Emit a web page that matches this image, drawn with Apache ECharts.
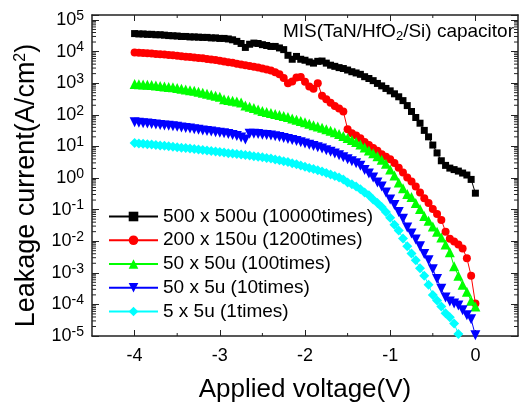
<!DOCTYPE html>
<html><head><meta charset="utf-8">
<script src="https://cdn.jsdelivr.net/npm/echarts@6/dist/echarts.min.js"></script>
<style>html,body{margin:0;padding:0;background:#fff}#c{width:523px;height:408px}</style>
</head><body><div id="c"></div>
<script>
// Applied voltage (V)
const volts = [-4.00,-3.95,-3.90,-3.85,-3.80,-3.75,-3.70,-3.65,-3.60,-3.55,
  -3.50,-3.45,-3.40,-3.35,-3.30,-3.25,-3.20,-3.15,-3.10,-3.05,
  -3.00,-2.95,-2.90,-2.85,-2.80,-2.75,-2.70,-2.65,-2.60,-2.55,
  -2.50,-2.45,-2.40,-2.35,-2.30,-2.25,-2.20,-2.15,-2.10,-2.05,
  -2.00,-1.95,-1.90,-1.85,-1.80,-1.75,-1.70,-1.65,-1.60,-1.55,
  -1.50,-1.45,-1.40,-1.35,-1.30,-1.25,-1.20,-1.15,-1.10,-1.05,
  -1.00,-0.95,-0.90,-0.85,-0.80,-0.75,-0.70,-0.65,-0.60,-0.55,
  -0.50,-0.45,-0.40,-0.35,-0.30,-0.25,-0.20,-0.15,-0.10,-0.05,
  0.00];

const seriesNames = ['500 x 500u (10000times)','200 x 150u (1200times)','50 x 50u (100times)','50 x 5u (10times)','5 x 5u (1times)'];

// Leakage current (A/cm2)
const jBlack = [3.7e4,3.6e4,3.6e4,3.5e4,3.5e4,3.4e4,3.4e4,3.3e4,3.2e4,3.15e4,
  3.1e4,3.0e4,3.0e4,2.9e4,2.9e4,2.85e4,2.8e4,2.8e4,2.7e4,2.7e4,
  2.6e4,2.6e4,2.5e4,2.35e4,2.1e4,1.8e4,1.35e4,1.7e4,1.85e4,1.8e4,
  1.65e4,1.55e4,1.45e4,1.45e4,1.3e4,1.15e4,7.6e3,5.7e3,7.0e3,5.7e3,
  5.3e3,4.7e3,4.3e3,4.9e3,5.0e3,4.3e3,3.7e3,3.4e3,3.1e3,2.9e3,
  2.6e3,2.3e3,2.1e3,1.9e3,1.6e3,1.4e3,1.2e3,980,820,680,
  570,460,370,280,195,127,82,54,32,20,
  11,6.2,3.5,2.5,2.05,1.84,1.65,1.43,1.24,0.9,
  0.33];
const jRed = [9.4e3,9.2e3,9.0e3,8.8e3,8.6e3,8.4e3,8.2e3,8.0e3,7.8e3,7.6e3,
  7.35e3,7.1e3,6.9e3,6.7e3,6.5e3,6.3e3,6.1e3,5.8e3,5.6e3,5.4e3,
  5.1e3,4.8e3,4.6e3,4.4e3,4.1e3,3.9e3,3.7e3,3.5e3,3.3e3,3.1e3,
  2.9e3,2.7e3,2.5e3,2.2e3,1.9e3,1.45e3,1.0e3,1.13e3,1.5e3,1.56e3,
  1.1e3,790,660,1.0e3,400,310,240,190,157,127,
  35,26,22,18,13.7,11,8.9,7.2,5.6,4.7,
  3.9,3.0,2.1,1.5,1.04,0.78,0.54,0.35,0.23,0.16,
  0.105,0.073,0.047,0.02,0.012,0.0098,0.0079,0.0059,0.0029,8.0e-4,
  1.07e-4];
const jGreen = [940,925,905,885,866,841,818,789,762,735,
  698,665,632,601,571,532,495,461,430,399,
  372,310,293,279,264,242,195,179,163,146,
  131,122,114,106,98.6,91.8,85.5,76.7,70,64,
  57.5,51.7,46.5,42.3,38.8,34.8,31.3,28.1,24.4,21.1,
  18.3,15.8,13.7,11.5,9.25,7.46,6.0,4.85,3.78,2.83,
  1.84,1.2,0.72,0.47,0.31,0.25,0.16,0.105,0.063,0.044,
  0.029,0.02,0.013,0.0079,0.0045,0.0016,8.0e-4,4.2e-4,2.5e-4,1.3e-4,
  8.6e-5];
const jBlue = [57.5,56,54.3,52.8,51.3,49.5,47.8,46.1,44.5,42.9,
  41.4,39.7,38,36.4,34.8,33.4,32,30.6,29.3,28.1,
  26.9,25.8,24.4,23,21.1,19,16.4,25.2,25.2,24.4,
  23.5,22.7,21.9,20.7,19.6,18.3,17,15.8,14.7,13.4,
  12.3,11.2,10.3,9.4,8.5,7.6,6.7,5.9,5.2,4.5,
  3.9,3.4,2.9,2.45,1.78,1.38,1.04,0.72,0.54,0.35,
  0.21,0.14,0.084,0.051,0.027,0.0174,0.0113,0.0069,0.0039,0.0025,
  0.0013,6.4e-4,3.1e-4,1.64e-4,1.23e-4,1.07e-4,9.2e-5,6.5e-5,4.5e-5,3.4e-5,
  1.05e-5];
const jCyan = [12.8,12.4,12.1,11.7,11.4,11.1,10.7,10.4,10.1,9.8,
  9.4,9.1,8.9,8.55,8.25,7.95,7.67,7.4,7.14,6.9,
  6.6,6.4,6.1,5.9,5.7,5.5,5.3,5.1,4.9,4.7,
  4.5,4.3,4.1,3.85,3.64,3.41,3.2,2.94,2.7,2.49,
  2.28,2.08,1.91,1.74,1.6,1.43,1.29,1.16,1.04,0.9,
  0.72,0.63,0.54,0.44,0.35,0.285,0.21,0.16,0.12,0.084,
  0.055,0.033,0.0216,0.0122,0.0069,0.0041,0.0025,0.0014,8.0e-4,4.2e-4,
  2.0e-4,1.32e-4,8.6e-5,5.2e-5,3.9e-5,2.5e-5,1.16e-5];

const xTickValues = [-4,-3,-2,-1,0];
const xMinorValues = [-3.5,-2.5,-1.5,-0.5];

const X_MIN = -4.5, X_MAX = 0.5, Y_MIN = -5, Y_MAX = 5.156;
const FONT = 'Liberation Sans, Arial, sans-serif';
const AX = '#222';

function pairs(vals) { return vals.map((v, i) => [volts[i], Math.log10(v)]); }

// minor tick positions (log 2..9 per decade, half-volt marks)
const minorData = [];
for (let n = -5; n < 5; n++) for (let k = 2; k <= 9; k++) minorData.push([X_MIN, n + Math.log10(k), 0]);
xMinorValues.forEach(v => minorData.push([v, Y_MIN, 1]));

const yLabelFmt = v => {
  const n = Math.round(v);
  if (Math.abs(v - n) > 1e-6) return '';
  return '{b|10}{s|' + n + '}';
};
const yRich = {
  b: {fontSize: 18, lineHeight: 22, fontFamily: FONT, color: '#000'},
  s: {fontSize: 14, lineHeight: 12, verticalAlign: 'top', fontFamily: FONT, color: '#000'}
};

const commonY = {
  type: 'value', min: Y_MIN, max: Y_MAX, interval: 1,
  axisLine: {show: true, onZero: false, lineStyle: {color: AX, width: 1.5}},
  axisTick: {show: true, inside: true, length: 7, lineStyle: {color: AX, width: 1}},
  splitLine: {show: false}
};
const commonX = {
  type: 'value', min: X_MIN, max: X_MAX, interval: 0.5,
  axisLine: {show: true, onZero: false, lineStyle: {color: AX, width: 1.5}},
  axisTick: {show: true, inside: true, length: 6, customValues: xTickValues, lineStyle: {color: AX, width: 1}},
  splitLine: {show: false}
};

const colors = ['#000000', '#ff0000', '#00ff00', '#0000ff', '#00ffff'];
const symbols = ['rect', 'circle', 'triangle', 'triangle', 'diamond'];
const sizes = [7, 8, 10, 10, 10];
const rotates = [0, 0, 0, 180, 0];
const allData = [jBlack, jRed, jGreen, jBlue, jCyan];

const series = allData.map((d, i) => ({
  name: seriesNames[i], type: 'line', data: pairs(d),
  symbol: symbols[i], symbolSize: sizes[i], symbolRotate: rotates[i],
  showSymbol: true, showAllSymbol: true,
  itemStyle: {color: colors[i]}, lineStyle: {color: colors[i], width: 1},
  clip: true, animation: false, z: 2 + i
}));

series.push({
  type: 'custom', silent: true, clip: false, z: 10, animation: false,
  data: minorData, encode: {x: 0, y: 1},
  renderItem: function (params, api) {
    const kind = api.value(2);
    const st = {stroke: AX, lineWidth: 1};
    if (kind === 0) {
      const v = api.value(1);
      const pL = api.coord([X_MIN, v]), pR = api.coord([X_MAX, v]);
      return {type: 'group', children: [
        {type: 'line', shape: {x1: pL[0], y1: pL[1], x2: pL[0] + 4, y2: pL[1]}, style: st},
        {type: 'line', shape: {x1: pR[0], y1: pR[1], x2: pR[0] - 4, y2: pR[1]}, style: st}
      ]};
    }
    const v = api.value(0);
    const pB = api.coord([v, Y_MIN]), pT = api.coord([v, Y_MAX]);
    return {type: 'group', children: [
      {type: 'line', shape: {x1: pB[0], y1: pB[1], x2: pB[0], y2: pB[1] - 3}, style: st},
      {type: 'line', shape: {x1: pT[0], y1: pT[1], x2: pT[0], y2: pT[1] + 3}, style: st}
    ]};
  }
});

const chart = echarts.init(document.getElementById('c'), null, {renderer: 'canvas'});
chart.setOption({
  animation: false,
  backgroundColor: '#fff',
  textStyle: {fontFamily: FONT},
  title: {
    text: 'MIS(TaN/HfO{sub|2}/Si) capacitor', right: 9, top: 21, padding: 0,
    textStyle: {fontFamily: FONT, fontSize: 19, fontWeight: 'normal', color: '#000', lineHeight: 22,
      rich: {sub: {fontFamily: FONT, fontSize: 13, lineHeight: 2, verticalAlign: 'bottom', color: '#000'}}}
  },
  legend: {
    orient: 'vertical', left: 108, top: 207, padding: 0,
    itemWidth: 49, itemHeight: 12, itemGap: 4.75,
    data: seriesNames,
    textStyle: {fontFamily: FONT, fontSize: 19, color: '#000', lineHeight: 18}
  },
  grid: {left: 92, right: 5, top: 15, bottom: 67, containLabel: false},
  xAxis: [
    Object.assign({}, commonX, {
      position: 'bottom',
      name: 'Applied voltage(V)', nameLocation: 'middle', nameGap: 41,
      nameTextStyle: {fontFamily: FONT, fontSize: 26, color: '#000'},
      axisLabel: {show: true, customValues: xTickValues, margin: 11, fontFamily: FONT, fontSize: 18, color: '#000',
        formatter: v => (Math.abs(v - Math.round(v)) < 1e-6 ? String(Math.round(v)) : '')}
    }),
    Object.assign({}, commonX, {position: 'top', axisLabel: {show: false}})
  ],
  yAxis: [
    Object.assign({}, commonY, {
      position: 'left',
      name: 'Leakage current(A/cm{s|2})', nameLocation: 'middle', nameGap: 49,
      nameTextStyle: {fontFamily: FONT, fontSize: 27, color: '#000', lineHeight: 28, padding: [0, 20, 0, 0],
        rich: {s: {fontFamily: FONT, fontSize: 16, lineHeight: 10, verticalAlign: 'top', color: '#000'}}},
      axisLabel: {show: true, margin: 8, formatter: yLabelFmt, rich: yRich}
    }),
    Object.assign({}, commonY, {position: 'right', axisLabel: {show: false}})
  ],
  series: series
});
</script></body></html>
